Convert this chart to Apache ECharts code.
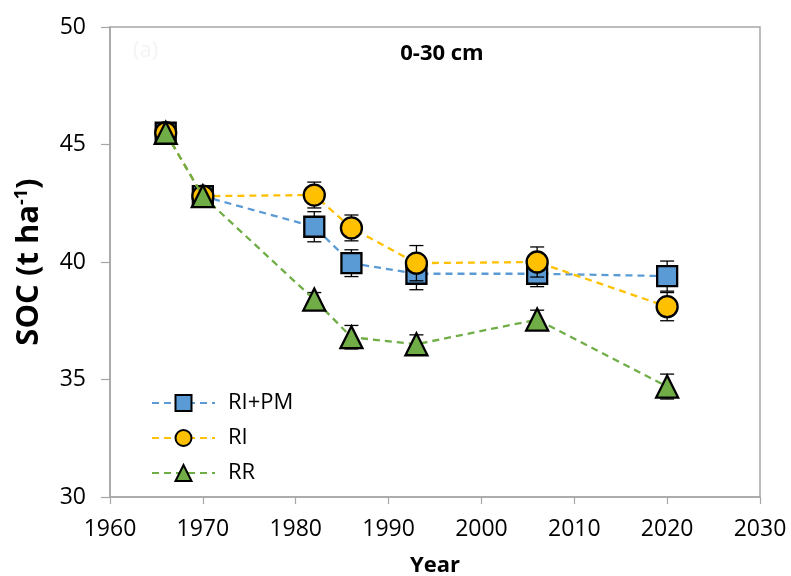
<!DOCTYPE html>
<html>
<head>
<meta charset="utf-8">
<script src="https://cdn.jsdelivr.net/npm/echarts@6/dist/echarts.min.js"></script>
<style>html,body{margin:0;padding:0;background:#fff}#c{width:791px;height:576px}</style>
</head>
<body>
<div id="c"></div>
<script>
var years = [1966, 1970, 1982, 1986, 1993, 2006, 2020];
var riPm = [45.5, 42.8, 41.5, 39.95, 39.5, 39.5, 39.4];
var ri = [45.5, 42.8, 42.85, 41.45, 39.95, 40.0, 38.1];
var rr = [45.5, 42.8, 38.4, 36.8, 36.5, 37.55, 34.7];
var riPmErr = [0, 0, 0.64, 0.57, 0.68, 0.55, 0.64];
var riErr = [0, 0, 0.55, 0.55, 0.75, 0.64, 0.6];
var rrErr = [0, 0, 0.3, 0.5, 0.4, 0.4, 0.53];
var xTicks = [1960, 1970, 1980, 1990, 2000, 2010, 2020, 2030];
var yTicks = [30, 35, 40, 45, 50];

var FONT = '"Open Sans", "Noto Sans", sans-serif';

function pairs(xs, ys) { return xs.map(function (x, i) { return [x, ys[i]]; }); }
function errData(xs, ys, es) { return xs.map(function (x, i) { return [x, ys[i], es[i]]; }); }

function errSeries(name, xs, ys, es, z) {
  return {
    type: 'custom',
    name: name + ' err',
    z: z,
    silent: true,
    data: errData(xs, ys, es),
    encode: { x: 0, y: 1 },
    renderItem: function (params, api) {
      var x = api.value(0), y = api.value(1), e = api.value(2);
      if (!e) return null;
      var top = api.coord([x, y + e]);
      var bot = api.coord([x, y - e]);
      var hw = 7;
      var st = { stroke: '#000', lineWidth: 1.3, fill: null };
      return {
        type: 'group',
        children: [
          { type: 'line', shape: { x1: top[0], y1: top[1], x2: bot[0], y2: bot[1] }, style: st },
          { type: 'line', shape: { x1: top[0] - hw, y1: top[1], x2: top[0] + hw, y2: top[1] }, style: st },
          { type: 'line', shape: { x1: bot[0] - hw, y1: bot[1], x2: bot[0] + hw, y2: bot[1] }, style: st }
        ]
      };
    }
  };
}

function lineSeries(name, xs, ys, color, symbol, size, z) {
  return {
    type: 'line',
    name: name,
    z: z,
    data: pairs(xs, ys),
    symbol: symbol,
    symbolSize: size,
    showAllSymbol: true,
    lineStyle: { color: color, width: 2.3, type: [7, 5] },
    itemStyle: { color: color, borderColor: '#000', borderWidth: 2.3 },
    emphasis: { disabled: true },
    animation: false
  };
}

var chart = echarts.init(document.getElementById('c'), null, { renderer: 'canvas' });
chart.setOption({
  backgroundColor: '#fff',
  animation: false,
  grid: { left: 110, right: 31, top: 27, bottom: 79, containLabel: false, outerBoundsMode: 'none',
    show: true, borderColor: '#a6a6a6', borderWidth: 1.5 },
  title: {
    text: '0-30 cm',
    left: 437, top: 38, textAlign: 'center',
    textStyle: { fontFamily: FONT, fontWeight: 'bold', fontSize: 22, color: '#000' }
  },
  graphic: [
    { type: 'text', left: 133, top: 40, style: { text: '(a)', fill: '#f4f4f4', font: '22px ' + FONT } }
  ],
  legend: {
    orient: 'vertical',
    left: 151, top: 392, padding: 0,
    itemWidth: 63, itemHeight: 20, itemGap: 13,
    data: ['RI+PM', 'RI', 'RR'],
    textStyle: { fontFamily: FONT, fontSize: 22, color: '#000', padding: [0, 0, 0, 8] }
  },
  xAxis: {
    type: 'value', min: 1960, max: 2030, interval: 10,
    name: 'Year', nameLocation: 'middle', nameGap: 58,
    nameTextStyle: { fontFamily: FONT, fontWeight: 'bold', fontSize: 22, color: '#000' },
    axisLine: { lineStyle: { color: '#a6a6a6', width: 1.5 } },
    axisTick: { show: true, length: 7, lineStyle: { color: '#a6a6a6', width: 1.2 } },
    axisLabel: { fontFamily: FONT, fontSize: 23, color: '#000', margin: 21,
      formatter: function (v) { return xTicks.indexOf(v) >= 0 ? String(v) : ''; } },
    splitLine: { show: false }
  },
  yAxis: {
    type: 'value', min: 30, max: 50, interval: 5,
    name: '{b|SOC (t ha}{s|-1}{b|)}', nameLocation: 'middle', nameGap: 65,
    nameTextStyle: {
      rich: {
        b: { fontFamily: FONT, fontWeight: 'bold', fontSize: 31, color: '#000' },
        s: { fontFamily: FONT, fontWeight: 'bold', fontSize: 18, color: '#000', verticalAlign: 'top', padding: [0, 0, 14, 0] }
      }
    },
    axisLine: { show: true, lineStyle: { color: '#a6a6a6', width: 1.5 } },
    axisTick: { show: true, length: 9, lineStyle: { color: '#a6a6a6', width: 1.2 } },
    axisLabel: { fontFamily: FONT, fontSize: 23, color: '#000', margin: 24,
      formatter: function (v) { return yTicks.indexOf(v) >= 0 ? String(v) : ''; } },
    splitLine: { show: false }
  },
  series: [
    errSeries('RI+PM', years, riPm, riPmErr, 2),
    lineSeries('RI+PM', years, riPm, '#5B9BD5', 'rect', 20, 3),
    errSeries('RI', years, ri, riErr, 4),
    lineSeries('RI', years, ri, '#FFC000', 'circle', 21, 5),
    errSeries('RR', years, rr, rrErr, 6),
    lineSeries('RR', years, rr, '#70AD47', 'triangle', 22, 7)
  ]
});
</script>
</body>
</html>
